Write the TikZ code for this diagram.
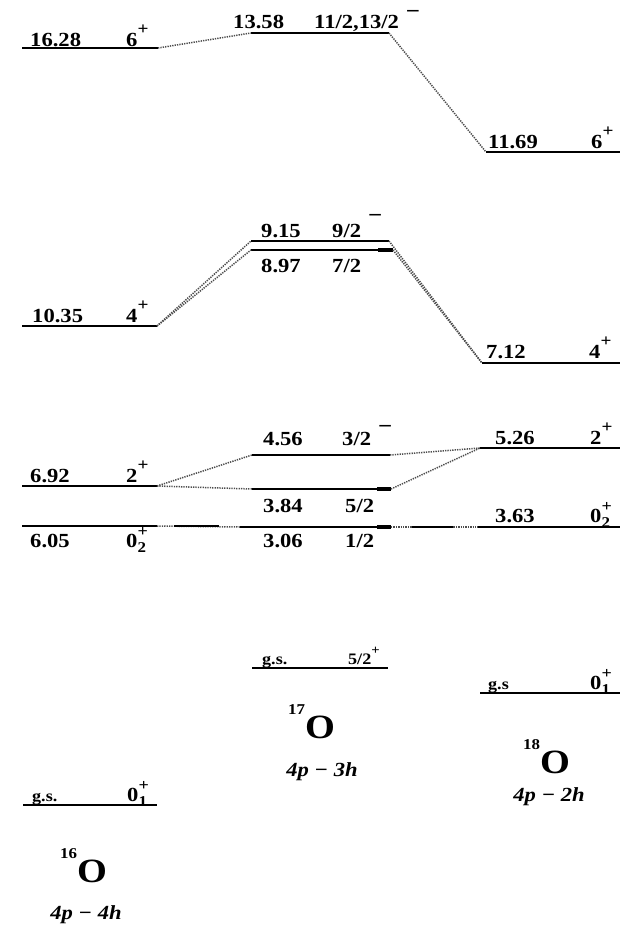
\documentclass[tikz,border=0pt]{standalone}
\usepackage{fontspec}
\setmainfont{Liberation Serif}[FakeStretch=1.13]
\newcommand{\sz}[1]{\fontsize{#1}{#1}\selectfont}
\newcommand{\Jsup}[2]{#1\raisebox{0.6em}{\sz{17}#2}}
\newcommand{\Jst}[3]{#1\rlap{\raisebox{0.55em}{\sz{16}#2}}\raisebox{-0.25em}{\sz{15}#3}}
\newcommand{\Mneg}[1]{\hspace{0.35em}\raisebox{#1}{\sz{22}−}}
\newcommand{\lvl}[4]{\coordinate (#1l) at (#2,#4); \coordinate (#1r) at (#3,#4); \draw[lev] (#1l) -- (#1r);}
\begin{document}
\begin{tikzpicture}[x=1pt,y=-1pt,
  lev/.style={line width=1.6pt, black},
  thk/.style={line width=3.2pt, black},
  con/.style={dash pattern=on 1.3pt off 1.1pt, line width=1.5pt, black!70},
  lab/.style={font=\sz{20}\bfseries, inner sep=0pt, anchor=base west},
  sml/.style={font=\sz{16}\bfseries, inner sep=0pt, anchor=base west},
  nuc/.style={inner sep=0pt, anchor=base west, font=\bfseries},
  cfg/.style={inner sep=0pt, anchor=base, font=\sz{20}\bfseries\itshape}]
\useasboundingbox (0,0) rectangle (620,926);
\fill[white] (0,0) rectangle (620,926);
% ---- 16O levels
\lvl{a6}{22}{158}{48}
\lvl{a4}{22}{157}{326}
\lvl{a2}{22}{157}{486}
\lvl{a0}{22}{157}{526}
\lvl{ag}{23}{157}{805}
% ---- 17O levels
\lvl{b13}{251}{389}{33}
\lvl{b9}{251}{389}{241}
\lvl{b7}{251}{393}{250}
\lvl{b3}{252}{390}{455}
\lvl{b5}{252}{391}{489}
\lvl{b1}{240}{391}{527}
\lvl{bg}{252}{388}{668}
\coordinate (t7) at (378,250); \draw[thk] (t7) -- (b7r);
\coordinate (t5) at (377,489); \draw[thk] (t5) -- (b5r);
\coordinate (t1) at (377,527); \draw[thk] (t1) -- (b1r);
% ---- 18O levels
\lvl{c6}{486}{620}{152}
\lvl{c4}{482}{620}{363}
\lvl{c2}{480}{620}{448}
\lvl{c0}{478}{620}{527}
\lvl{cg}{480}{620}{693}
% ---- connectors
\draw[con] (a6r) -- (b13l);
\draw[con] (b13r) -- (c6l);
\draw[con] (a4r) -- (b9l);
\draw[con] (a4r) -- (b7l);
\draw[con] (b9r) -- (c4l);
\draw[con] (b7r) -- (c4l);
\draw[con] (a2r) -- (b3l);
\draw[con] (a2r) -- (b5l);
\draw[con] (b3r) -- (c2l);
\draw[con] (b5r) -- (c2l);
\draw[con] (a0r) -- (b1l);
\draw[con] (b1r) -- (c0l);
\coordinate (m1) at (174,526); \coordinate (m2) at (219,526);
\draw[lev] (m1) -- (m2);
\coordinate (m3) at (412,527); \coordinate (m4) at (453,527);
\draw[lev] (m3) -- (m4);
% ---- labels 16O
\node[lab] (e1) at (30,46) {16.28};
\node[lab] (j1) at (126,46) {\Jsup{6}{+}};
\node[lab] (e2) at (32,322) {10.35};
\node[lab] (j2) at (126,322) {\Jsup{4}{+}};
\node[lab] (e3) at (30,482) {6.92};
\node[lab] (j3) at (126,482) {\Jsup{2}{+}};
\node[lab] (e4) at (30,547) {6.05};
\node[lab] (j4) at (126,547) {\Jst{0}{+}{2}};
\node[sml] (e5) at (32,801) {g.s.};
\node[lab] (j5) at (127,801) {\Jst{0}{+}{1}};
% ---- labels 17O
\node[lab] (f1) at (233,28) {13.58};
\node[lab] (k1) at (314,28) {11/2,13/2\Mneg{0.5em}};
\node[lab] (f2) at (261,237) {9.15};
\node[lab] (k2) at (332,237) {9/2\Mneg{0.75em}};
\node[lab] (f3) at (261,272) {8.97};
\node[lab] (k3) at (332,272) {7/2};
\node[lab] (f4) at (263,445) {4.56};
\node[lab] (k4) at (342,445) {3/2\Mneg{0.6em}};
\node[lab] (f5) at (263,512) {3.84};
\node[lab] (k5) at (345,512) {5/2};
\node[lab] (f6) at (263,547) {3.06};
\node[lab] (k6) at (345,547) {1/2};
\node[sml] (f7) at (262,664) {g.s.};
\node[sml] (k7) at (348,664) {5/2\raisebox{0.6em}{\sz{13}+}};
% ---- labels 18O
\node[lab] (g1) at (488,148) {11.69};
\node[lab] (h1) at (591,148) {\Jsup{6}{+}};
\node[lab] (g2) at (486,358) {7.12};
\node[lab] (h2) at (589,358) {\Jsup{4}{+}};
\node[lab] (g3) at (495,444) {5.26};
\node[lab] (h3) at (590,444) {\Jsup{2}{+}};
\node[lab] (g4) at (495,522) {3.63};
\node[lab] (h4) at (590,522) {\Jst{0}{+}{2}};
\node[sml] (g5) at (488,689) {g.s};
\node[lab] (h5) at (590,689) {\Jst{0}{+}{1}};
% ---- nucleus names
\node[nuc] (n16) at (60,882) {\raisebox{24pt}{\sz{15}16}{\sz{34}O}};
\node[cfg] (c16) at (86,919) {4p − 4h};
\node[nuc] (n17) at (288,738) {\raisebox{24pt}{\sz{15}17}{\sz{34}O}};
\node[cfg] (c17) at (322,776) {4p − 3h};
\node[nuc] (n18) at (523,773) {\raisebox{24pt}{\sz{15}18}{\sz{34}O}};
\node[cfg] (c18) at (549,801) {4p − 2h};
\end{tikzpicture}
\end{document}
